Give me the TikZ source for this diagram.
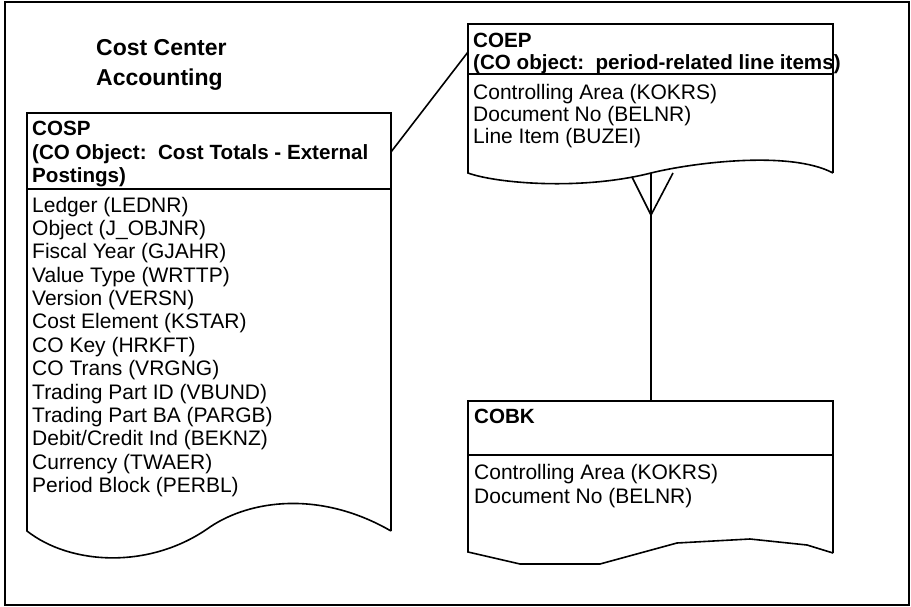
\documentclass[tikz,border=0pt]{standalone}
\usepackage{fontspec}
\setmainfont{Liberation Sans}
\begin{document}
\begin{tikzpicture}[x=1pt,y=-1pt,
  box/.style={line width=1.6pt, line join=miter},
  conn/.style={line width=1.6pt},
  txt/.style={anchor=base west, inner sep=0pt, font=\fontsize{21}{23.4}\selectfont},
  txtb/.style={anchor=base west, inner sep=0pt, font=\fontsize{21}{22}\selectfont},
  hdr/.style={anchor=base west, inner sep=0pt, font=\bfseries\fontsize{20.6}{23.4}\selectfont},
  hdrb/.style={anchor=base west, inner sep=0pt, font=\bfseries\fontsize{20.6}{22}\selectfont},
  ttl/.style={anchor=base west, inner sep=0pt, font=\bfseries\fontsize{23}{30}\selectfont}]
\useasboundingbox (0,0) rectangle (911,607);
\fill[white] (0,0) rectangle (911,607);
% outer frame
\draw[line width=2pt] (5,2) rectangle (909,605);

% title
\node[ttl] (title) at (96,56) {\begin{tabular}[t]{@{}l@{}}Cost Center\\Accounting\end{tabular}};

% COSP box
\draw[box] (391,531) -- (391,113) -- (27,113) -- (27,531)
  .. controls (70,565) and (150,570) .. (210,527)
  .. controls (250,500) and (320,490) .. (391,531);
\draw[box] (27,189) -- (391,189);
\node[hdr] (cospH) at (32,136) {\begin{tabular}[t]{@{}l@{}}COSP\\(CO Object:\ \ Cost Totals - External\\Postings)\end{tabular}};
\node[txt] (cospB) at (32,212) {\begin{tabular}[t]{@{}l@{}}Ledger (LEDNR)\\Object (J\_OBJNR)\\Fiscal Year (GJAHR)\\Value Type (WRTTP)\\Version (VERSN)\\Cost Element (KSTAR)\\CO Key (HRKFT)\\CO Trans (VRGNG)\\Trading Part ID (VBUND)\\Trading Part BA (PARGB)\\Debit/Credit Ind (BEKNZ)\\Currency (TWAER)\\Period Block (PERBL)\end{tabular}};

% COEP box
\draw[box] (833,173) -- (833,24) -- (468,24) -- (468,173)
  .. controls (495,183) and (580,191) .. (651,173)
  .. controls (691,163) and (790,150) .. (833,173);
\draw[box] (468,74) -- (833,74);
\node[hdrb] (coepH) at (473,48) {\begin{tabular}[t]{@{}l@{}}COEP\\(CO object:\ \ period-related line items)\end{tabular}};
\node[txtb] (coepB) at (473,100) {\begin{tabular}[t]{@{}l@{}}Controlling Area (KOKRS)\\Document No (BELNR)\\Line Item (BUZEI)\end{tabular}};

% COBK box
\draw[box] (833,553) -- (833,401) -- (468,401) -- (468,552)
  -- (520,564) -- (600,564) -- (677,543) -- (750,539) -- (807,545) -- (833,553);
\draw[box] (468,455) -- (833,455);
\node[hdr] (cobkH) at (474,423) {COBK};
\node[txt,font=\fontsize{21}{24}\selectfont] (cobkB) at (474,479) {\begin{tabular}[t]{@{}l@{}}Controlling Area (KOKRS)\\Document No (BELNR)\end{tabular}};

% connectors
\coordinate (cospR) at (391,152);
\coordinate (coepL) at (468,52);
\draw[conn] (cospR) -- (coepL);

\coordinate (coepBot) at (651,173);
\coordinate (cobkTop) at (651,401);
\coordinate (foot) at (651,215);
\coordinate (prongL) at (632,177);
\coordinate (prongR) at (673,173);
\draw[conn] (coepBot) -- (cobkTop);
\draw[conn] (prongL) -- (foot) -- (prongR);
\end{tikzpicture}
\end{document}
